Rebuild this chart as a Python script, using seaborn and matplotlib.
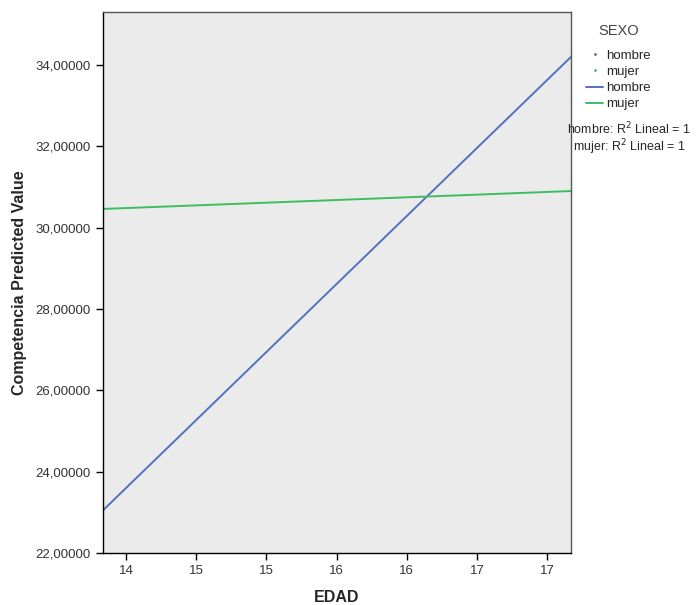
import pandas as pd
import matplotlib.pyplot as plt
import seaborn as sns
import numpy as np
from matplotlib.lines import Line2D
from matplotlib.ticker import FuncFormatter

# datos (valores predichos, ajuste lineal)
edad = [13.84, 17.17]
hombre = [23.06, 34.20]
mujer = [30.46, 30.90]
x_ticks = [14.0, 14.5, 15.0, 15.5, 16.0, 16.5, 17.0]
x_labels = ['14', '15', '15', '16', '16', '17', '17']
y_ticks = [22, 24, 26, 28, 30, 32, 34]

df = pd.DataFrame({
    'EDAD': edad * 2,
    'pred': hombre + mujer,
    'SEXO': ['hombre'] * 2 + ['mujer'] * 2,
})

colores = {'hombre': '#5470C0', 'mujer': '#3DBE5E'}

sns.set_style('white')
plt.rcParams['font.family'] = ['Liberation Sans', 'DejaVu Sans']

fig = plt.figure(figsize=(7, 6.05), dpi=100)
ax = fig.add_axes([0.147, 0.086, 0.669, 0.894])
ax.set_facecolor('#EBEBEB')

sns.lineplot(data=df, x='EDAD', y='pred', hue='SEXO', palette=colores,
             linewidth=1.4, legend=False, ax=ax)

ax.set_xlim(13.836, 17.171)
ax.set_ylim(22, 35.3)
ax.set_xticks(x_ticks)
ax.set_xticklabels(x_labels)
ax.set_yticks(y_ticks)
ax.yaxis.set_major_formatter(FuncFormatter(lambda v, p: f'{v:.5f}'.replace('.', ',')))
ax.tick_params(axis='both', direction='out', length=5, width=1, color='black',
               labelsize=9.5, labelcolor='#333333', left=True, bottom=True, pad=4)

for s in ax.spines.values():
    s.set_visible(True)
    s.set_color('#555555')
    s.set_linewidth(1)
ax.spines['left'].set_color('black')
ax.spines['bottom'].set_color('black')

ax.set_xlabel('EDAD', fontsize=11.5, fontweight='bold')
ax.set_ylabel('Competencia Predicted Value', fontsize=11.5, fontweight='bold', labelpad=6)
ax.xaxis.set_label_coords(0.5, -0.068)

handles = [
    Line2D([], [], marker='.', markersize=2, linestyle='none', color=colores['hombre']),
    Line2D([], [], marker='.', markersize=2, linestyle='none', color=colores['mujer']),
    Line2D([], [], color=colores['hombre'], linewidth=1.4),
    Line2D([], [], color=colores['mujer'], linewidth=1.4),
]
leg = fig.legend(handles, ['hombre', 'mujer', 'hombre', 'mujer'], title='SEXO',
                 loc='upper left', bbox_to_anchor=(0.822, 0.977), frameon=False,
                 fontsize=9.5, title_fontsize=10.5, handlelength=1.3, handletextpad=0.2,
                 labelspacing=0.3, borderpad=0.3)
leg.get_title().set_color('#444444')
leg._legend_box.sep = 8

fig.text(0.899, 0.786, 'hombre: R$^2$ Lineal = 1', ha='center', va='center', fontsize=9)
fig.text(0.899, 0.756, 'mujer: R$^2$ Lineal = 1', ha='center', va='center', fontsize=9)

plt.savefig('out.png', dpi=100)
